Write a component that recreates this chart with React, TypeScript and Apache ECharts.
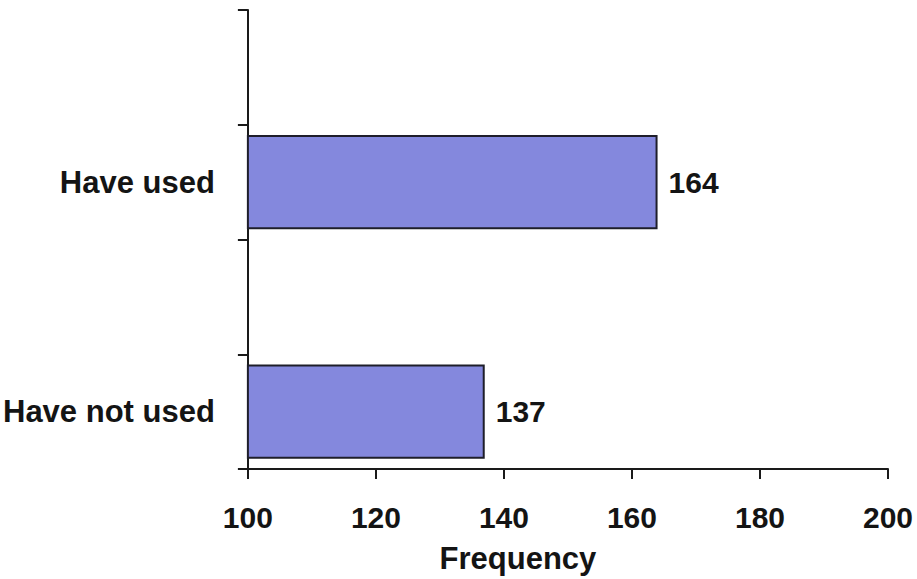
import React, { useEffect, useRef } from "react";
import * as echarts from "echarts";

const categories = ["Have not used", "", "Have used", ""];
const frequencies: (number | string)[] = [137, "-", 164, "-"];
const xMin = 100;
const xMax = 200;
const xInterval = 20;

const FONT = "'Liberation Sans', Arial, Helvetica, sans-serif";

export default function App() {
  const ref = useRef<HTMLDivElement>(null);
  useEffect(() => {
    if (!ref.current) return;
    const chart = echarts.init(ref.current, undefined, { renderer: "svg" });
    chart.setOption({
      animation: false,
      backgroundColor: "#ffffff",
      grid: { left: 245, right: 29, top: 10, bottom: 108, containLabel: false },
      xAxis: {
        type: "value",
        min: xMin,
        max: xMax,
        interval: xInterval,
        name: "Frequency",
        nameLocation: "middle",
        nameGap: 74,
        nameTextStyle: {
          fontFamily: FONT,
          fontWeight: "bold",
          fontSize: 31,
          color: "#141414",
          padding: [0, 100, 0, 0],
        },
        axisLine: { show: true, lineStyle: { color: "#1a1a1a", width: 2 } },
        axisTick: { show: true, inside: false, length: 10, lineStyle: { color: "#1a1a1a", width: 2 } },
        axisLabel: { margin: 33, fontFamily: FONT, fontWeight: "bold", fontSize: 30, color: "#141414" },
        splitLine: { show: false },
      },
      yAxis: {
        type: "category",
        data: categories,
        boundaryGap: true,
        axisLine: { show: true, lineStyle: { color: "#1a1a1a", width: 2 } },
        axisTick: { show: true, inside: false, length: 10, alignWithLabel: false, lineStyle: { color: "#1a1a1a", width: 2 } },
        axisLabel: { margin: 33, fontFamily: FONT, fontWeight: "bold", fontSize: 31, color: "#141414" },
        splitLine: { show: false },
      },
      series: [
        {
          type: "bar",
          data: frequencies,
          barCategoryGap: "18%",
          itemStyle: { color: "#8488dd", borderColor: "#1e1e2a", borderWidth: 2 },
          label: {
            show: true,
            position: "right",
            distance: 11,
            fontFamily: FONT,
            fontWeight: "bold",
            fontSize: 30,
            color: "#141414",
          },
        },
      ],
    });
    return () => chart.dispose();
  }, []);
  return (
    <div
      ref={ref}
      style={{ position: "fixed", left: 0, top: 0, width: 917, height: 579 }}
    />
  );
}
